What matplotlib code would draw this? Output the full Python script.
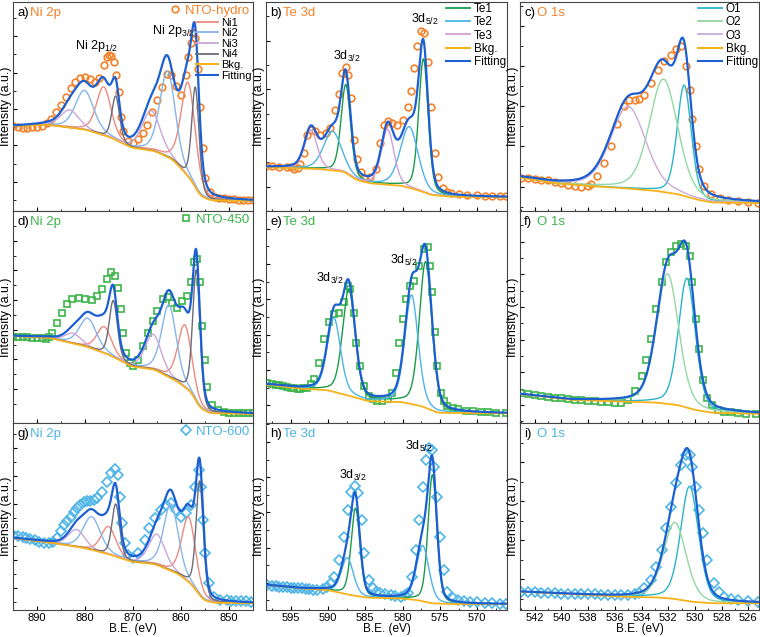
import numpy as np
import matplotlib.pyplot as plt
from matplotlib.lines import Line2D

plt.rcParams['font.family'] = ['Liberation Sans', 'DejaVu Sans']
plt.rcParams['mathtext.fontset'] = 'custom'
plt.rcParams['mathtext.rm'] = 'Liberation Sans'
plt.rcParams['mathtext.it'] = 'Liberation Sans'

# ---------------- data (B.E. in eV, intensity in a.u. 0-100) ----------------
samples = ['NTO-hydro', 'NTO-450', 'NTO-600']
sample_colors = ['#f5822a', '#3db54a', '#4fb4e8']
sample_markers = ['o', 's', 'D']

ni_hydro = [(895, 40.6), (894, 40.3), (893, 39.7), (892, 39.7), (891, 40.0), (890, 40.3), (889, 40.6),
            (888, 42), (887, 44), (886, 47.5), (885, 50.8), (884, 54.6), (883, 59), (882, 61.9),
            (881, 63.5), (880, 64.1), (879, 63), (878, 61.6), (877, 63.5), (876, 70), (875.5, 73.5),
            (875, 74.5), (874.5, 74), (874, 71.5), (873.5, 65), (873, 57), (872.5, 45), (872, 38.5),
            (871, 33.6), (870, 32.4), (869, 34.3), (868, 37.5), (867, 41.3), (866, 47.3), (865, 53),
            (864, 59.4), (863, 65.4), (862, 65), (861, 59.7), (860, 55.5), (859, 65), (858.5, 73.5),
            (858, 80.5), (857.5, 85), (857, 83), (856.5, 68), (856, 50), (855.5, 30), (855, 16),
            (854, 9), (853, 6.8), (852, 6.2), (851, 6), (850, 5.7), (849, 5.7), (848, 5.4),
            (847, 5.4), (846, 5.2), (845, 5.2)]
te_hydro = [(598.3, 19.7), (597.5, 19.7), (596.5, 19.5), (595.5, 19.3), (595, 19.2), (594.6, 18.4),
            (594, 19), (593.7, 20.8), (593.2, 26.3), (592.8, 35), (592.3, 37.5), (591.7, 36.7),
            (591, 35), (590.3, 35.9), (589.7, 38.3), (589, 47), (588.5, 55), (588.1, 65.2),
            (587.6, 68.4), (587.3, 64.4), (586.9, 53.3), (586.5, 32.7), (586.1, 23.2), (585.6, 16.8),
            (585, 14), (584.3, 14.4), (583.6, 18.4), (583, 31), (582.5, 39.8), (582, 41.9),
            (581.4, 41), (580.7, 39.8), (580, 42.2), (579.3, 48.6), (578.9, 56.5), (578.4, 67.6),
            (578, 78.7), (577.5, 85.9), (577.1, 85), (576.6, 70.8), (576.2, 48.6), (575.7, 26.3),
            (575.3, 14.4), (574.6, 8.9), (574, 7.3), (573.5, 6.5), (572.5, 6), (571.3, 5.7),
            (570, 5.4), (569, 5.2), (568, 5), (567, 4.9), (566.2, 4.9)]
o_hydro = [(543, 16), (542.5, 15.6), (542, 15.3), (541.5, 15), (541, 14.6), (540.5, 14), (540, 13.3),
           (539.5, 12.5), (539, 12), (538.5, 11.3), (538, 12), (537.8, 12.9), (537.3, 16.8),
           (536.8, 23.2), (536.3, 31.1), (535.8, 41.4), (535.3, 50.2), (534.9, 53.3), (534.5, 53.3),
           (534.2, 53.8), (533.8, 55.7), (533.3, 61.3), (532.8, 67.6), (532.3, 71.6), (531.8, 74.8),
           (531.4, 77.5), (531.05, 79), (530.7, 69.2), (530.4, 58.1), (530.2, 43.8), (529.9, 31.1),
           (529.7, 20), (529.3, 12), (528.8, 8.1), (528.1, 6.2), (527.5, 5.5), (526.8, 4.9),
           (526, 4.3), (525.3, 3.8)]

ni_450 = [(895, 40.7), (894, 40.7), (893, 40.5), (892, 40.5), (891, 40.3), (890, 40.2), (889, 40),
          (888.2, 39.7), (887.5, 40.5), (886.8, 42.6), (885.8, 47.3), (884.7, 52), (883.7, 56),
          (882.7, 58.4), (881.3, 58.9), (879.9, 58.4), (878.6, 57.9), (877.5, 59.7), (876.5, 63.1),
          (875.5, 67.9), (874.5, 71), (873.8, 69.5), (873.1, 63.9), (872.5, 53.6), (872.1, 42.6),
          (871.4, 33.1), (870.7, 28.3), (870, 26.7), (869, 29.9), (867.9, 36.2), (866.9, 42.6),
          (865.9, 48.1), (864.9, 52.8), (863.8, 58.4), (862.8, 59.2), (861.8, 56.8), (860.8, 54.4),
          (859.7, 57.6), (858.7, 60), (858, 66.3), (857.3, 75.8), (856.6, 77.4), (856.1, 66.3),
          (855.6, 45.7), (855.1, 29.9), (854.6, 17.2), (853.6, 8.5), (852.2, 6.2), (851, 5.2),
          (850, 4.9), (849, 4.9), (848, 4.9), (847, 4.9), (846, 4.9), (845, 4.9)]
te_450 = [(598.2, 18.8), (597.5, 18.3), (597, 17.9), (596.5, 17.5), (596, 17.2), (595.5, 16.8),
          (595, 16.5), (594.5, 16.2), (594, 16), (593.7, 16), (593.3, 16.2), (592.8, 16.5),
          (592.3, 18), (591.9, 20.4), (591.2, 28.3), (590.5, 39.4), (589.9, 47.3), (589.2, 51.3),
          (588.5, 52), (587.9, 56.8), (587.3, 64.4), (587, 63.1), (586.5, 52), (586.2, 37.8),
          (585.7, 26.7), (585.2, 17.2), (584.5, 12.5), (584, 11), (583.4, 10.1), (582.7, 10.3),
          (582, 10.9), (581.4, 14.1), (580.9, 23.6), (580.5, 37.8), (580, 48.9), (579.6, 58.4),
          (579, 64.4), (578.4, 67.1), (577.8, 74.2), (577.1, 82.1), (576.6, 82.9), (576.3, 74.2),
          (576, 61.6), (575.7, 42.6), (575.4, 26.7), (574.9, 14.1), (574.5, 10), (574, 7.8),
          (573.3, 6.8), (572.6, 6.2), (571.5, 5.6), (570.5, 5.2), (569.5, 5), (568.5, 4.8),
          (567.5, 4.7), (566.2, 4.6)]
o_450 = [(543, 14.1), (542.5, 13.5), (542, 13), (541.5, 12.6), (541, 12.3), (540.5, 12), (540, 11.7),
         (539.5, 11.3), (539, 11), (538.5, 10.8), (538, 10.6), (537.5, 10.3), (537, 10.1),
         (536.5, 9.7), (536, 9.2), (535.5, 9.2), (535, 10.9), (534.5, 14.9), (534, 22),
         (533.7, 29.9), (533.3, 39.4), (532.9, 53.6), (532.5, 66.3), (532.2, 75.8), (531.8, 80.5),
         (531.4, 83.7), (531.05, 84.5), (530.7, 83.7), (530.4, 79), (530.2, 66.3), (529.9, 48.9),
         (529.7, 34.7), (529.4, 20.4), (529.1, 11.7), (528.7, 8.5), (528.3, 6.2), (527.8, 5.4),
         (527.3, 5), (526.8, 4.6), (526.2, 4.4), (525.4, 4.3)]

ni_600 = [(895, 40.1), (894, 39.5), (893, 38.8), (892.3, 38.3), (891.5, 37.8), (890.5, 37.2),
          (889.5, 36.5), (888.5, 36), (887.5, 35.7), (886.6, 36.5), (885.8, 38.3), (885, 42),
          (884.4, 45.5), (883.7, 47.7), (883, 49.9), (882.3, 52.3), (881.6, 54.4), (881, 56),
          (880.3, 57.9), (879.6, 58.2), (878.9, 58.5), (878.2, 59), (877.5, 59.7), (876.5, 63.3),
          (875.5, 68.6), (874.5, 73.1), (873.8, 75.2), (873.2, 72.2), (872.7, 60.6), (872.3, 46.3),
          (871.7, 35.7), (871, 29.4), (870, 27.6), (869, 30.3), (867.6, 37.4), (866.6, 43.7),
          (865.5, 49), (864.2, 53.5), (863.2, 56.1), (862.1, 57), (861.1, 53.5), (860.1, 49.9),
          (859, 51.7), (858, 56.1), (857, 66), (856.3, 74.9), (855.8, 66), (855.4, 48.1),
          (854.9, 30.3), (854.2, 14.3), (853.2, 7.1), (851.8, 5.3), (850.5, 5.1), (849.5, 5),
          (848.5, 4.8), (847.5, 4.7), (846.5, 4.6), (845.5, 4.5)]
te_600 = [(598.2, 13.4), (597.5, 13.1), (597, 12.8), (596.5, 12.5), (596, 12.3), (595.5, 12.1),
          (595, 12), (594.5, 11.8), (594, 11.7), (593.5, 11.5), (593, 11.3), (592.5, 11),
          (592, 10.9), (591.4, 10.7), (590.7, 11.2), (590.1, 12.5), (589.6, 14.5), (589.2, 17.8),
          (588.5, 26.7), (587.9, 39.2), (587.3, 53.5), (586.9, 63.3), (586.4, 66.3), (586, 62.4),
          (585.5, 48.1), (585.1, 30.3), (584.5, 16), (584, 11.5), (583.6, 9.8), (583, 9),
          (582.3, 8.5), (581.6, 8), (581, 7.6), (580.2, 7.1), (579.7, 7.8), (579.3, 9.3),
          (578.7, 17.8), (578.2, 32.1), (577.8, 48.1), (577.3, 66), (576.9, 80.2), (576.4, 86.5),
          (576.1, 85.6), (575.8, 76.6), (575.4, 60.6), (575, 39.2), (574.5, 21.4), (574, 9.8),
          (573.3, 6.5), (572.6, 5.3), (571.8, 4.8), (571, 4.4), (570, 4.1), (569, 3.9), (568, 3.6),
          (567, 3.4), (566.2, 3.2)]
o_600 = [(543, 9.8), (542.5, 9.6), (542, 9.5), (541.5, 9.3), (541, 9.1), (540.5, 8.9), (540, 8.8),
         (539.5, 8.7), (539, 8.6), (538.5, 8.5), (538, 8.4), (537.5, 8.3), (537, 8.2), (536.5, 8),
         (536, 7.9), (535.5, 7.8), (535, 8), (534.5, 8.4), (534.2, 9.2), (533.8, 11.6), (533.3, 16),
         (532.9, 23.2), (532.5, 32.1), (532.2, 43.7), (531.8, 55.3), (531.4, 67.7), (531.05, 77.5),
         (530.7, 82.9), (530.4, 82.9), (530.2, 76.6), (529.9, 66), (529.7, 53.5), (529.4, 41),
         (529.1, 26.7), (528.6, 14.3), (528.2, 9.5), (527.8, 7.1), (527.3, 6), (526.8, 5.3),
         (526, 4.9), (525.3, 4.5)]

# background anchor points
bkg_ni_hydro = [(895, 40.6), (888, 41.3), (880, 39), (875, 35.5), (870.3, 30.3), (865.5, 28.7), (862, 25),
                (860.8, 22.4), (858, 15.2), (856, 7.3), (854, 5.2), (845, 4.8)]
bkg_te_hydro = [(598.3, 19.2), (591.4, 18.4), (587.9, 17.1), (586.1, 12.9), (584.3, 11.3), (580.2, 10.2),
                (578, 8.1), (576.2, 5.7), (573.5, 4.8), (566, 4.6)]
bkg_o_hydro = [(543, 16), (540.5, 13.3), (538, 12), (535.5, 11), (533, 9.7), (531.3, 8.1), (530, 5.7),
               (528.8, 4.1), (525.2, 3.8)]
bkg_ni_450 = [(895, 41), (887.5, 40.2), (879.9, 36.2), (875.1, 32.3), (870.3, 26.7), (865.5, 25.2),
              (860.8, 19.6), (858, 14.9), (856, 7), (853.9, 4.6), (845, 4.3)]
bkg_te_450 = [(598.2, 18), (593.7, 16), (590.1, 15.3), (587, 12.5), (584.7, 10.1), (580.2, 9.7),
              (577.5, 7.8), (575.3, 4.6), (566, 4.3)]
bkg_o_450 = [(543, 13.6), (539.3, 10.9), (535.5, 10.1), (533, 9.7), (531.3, 8.5), (530, 6.2),
             (528.8, 4.9), (525.2, 4.3)]
bkg_ni_600 = [(895, 38.5), (886.8, 35.9), (879.9, 33), (875.1, 29.9), (870.3, 25.8), (865.5, 24.6),
              (860.8, 19.6), (858, 14.3), (855.3, 5.3), (853.2, 3.9), (845, 3.6)]
bkg_te_600 = [(598.2, 13.4), (593.7, 11.6), (590.1, 10.7), (587, 8), (584.7, 6.6), (580.2, 6.2),
              (578, 5.3), (576.2, 3.6), (573.5, 3.2), (566, 3.2)]
bkg_o_600 = [(543, 9.8), (535.5, 7.1), (533, 6.8), (531.8, 6.2), (530.3, 4.5), (528.8, 3.6), (525.2, 3.6)]

# fitted components: one list per component, [(center, height above bkg, fwhm), ...]
ni_names = ['Ni1', 'Ni2', 'Ni3', 'Ni4']
ni_colors = ['#ec8a80', '#86b5ea', '#caa6da', '#6c6c7a']
te_names = ['Te1', 'Te2', 'Te3']
te_colors = ['#1b9a4b', '#4cb4e6', '#d29fd8']
o_names = ['O1', 'O2', 'O3']
o_colors = ['#2ab4c8', '#93d7a3', '#c8abd9']

peaks_ni_hydro = [[(876.1, 23, 3.6), (858.5, 45, 3.5)], [(880.1, 18.6, 4.5), (862.8, 41, 3.8)],
                  [(883.2, 8.3, 4.5), (866.2, 19, 4.5)], [(873.6, 21, 1.9), (857.0, 48, 1.8)]]
peaks_te_hydro = [[(587.6, 43.2, 1.5), (577.2, 65.1, 1.5)], [(589.4, 19, 2.8), (579.1, 29.8, 2.8)],
                  [(592.3, 18.8, 2.0), (582.0, 27, 2.0)]]
peaks_o_hydro = [[(530.8, 53, 1.25)], [(532.35, 54, 2.5)], [(535.0, 39.3, 3.1)]]
peaks_ni_450 = [[(876.0, 12.3, 3.6), (859.2, 29.3, 3.4)], [(879.4, 13.5, 4.2), (862.5, 34, 3.6)],
                [(882.5, 4.7, 4.0), (865.8, 16.6, 4.0)], [(874.1, 26.6, 2.0), (856.8, 62, 1.8)]]
peaks_te_450 = [[(587.2, 50, 2.0), (576.9, 69, 2.0)], [(589.2, 34.8, 2.1), (578.8, 51.5, 2.1)]]
peaks_o_450 = [[(530.6, 61, 1.5)], [(532.05, 61.4, 1.95)]]
peaks_ni_600 = [[(875.1, 14.7, 3.6), (858.4, 34.7, 3.4)], [(878.6, 17.6, 4.2), (862.1, 35.6, 3.6)],
                [(881.8, 9.2, 4.0), (865.0, 16.4, 4.0)], [(873.6, 28, 1.9), (856.1, 61, 1.8)]]
peaks_te_600 = [[(586.3, 46.8, 1.4), (576.0, 68.7, 1.4)], [(587.4, 19.6, 1.9), (577.3, 29.8, 2.0)]]
peaks_o_600 = [[(530.4, 61.5, 1.6)], [(531.5, 41, 2.0)]]

BKG_COLOR = '#f6b21b'
FIT_COLOR = '#1c5fd2'


def pv(x, c, h, w, eta=0.3):
    g = np.exp(-4 * np.log(2) * (x - c) ** 2 / w ** 2)
    l = 1 / (1 + 4 * (x - c) ** 2 / w ** 2)
    return h * ((1 - eta) * g + eta * l)


def draw(ax, data, bkg, peaks, colors, xlim, sample_i):
    grid = np.linspace(xlim[0], xlim[1], 800)
    bx, by = zip(*bkg)
    base = np.interp(grid, bx[::-1], by[::-1])
    k = np.ones(25) / 25
    base = np.convolve(np.pad(base, 12, mode='edge'), k, mode='valid')
    dx, dy = zip(*data)
    ax.plot(dx, dy, ls='none', marker=sample_markers[sample_i], ms=4.8, mew=1.2,
            mfc='none', mec=sample_colors[sample_i], zorder=2)
    total = base.copy()
    for pk, col in zip(peaks, colors):
        comp = sum(pv(grid, *p) for p in pk)
        total += comp
        ax.plot(grid, base + comp, color=col, lw=1.0, zorder=3)
    ax.plot(grid, base, color=BKG_COLOR, lw=1.3, zorder=3)
    ax.plot(grid, total, color=FIT_COLOR, lw=1.6, zorder=4)
    ax.set_xlim(*xlim)
    ax.set_ylim(0, 100)


fig = plt.figure(figsize=(7.6, 6.37), dpi=100)
col_left = [13 / 760, 266 / 760, 520 / 760]
col_w = [240 / 760, 241 / 760, 239 / 760]
row_bot = [1 - 211 / 637, 1 - 423 / 637, 1 - 610 / 637]
row_h = [209 / 637, 212 / 637, 187 / 637]

xlims = [(895, 845), (598.3, 566.0), (543.1, 525.2)]
xmajor = [10, 5, 2]
all_data = [[ni_hydro, te_hydro, o_hydro], [ni_450, te_450, o_450], [ni_600, te_600, o_600]]
all_bkg = [[bkg_ni_hydro, bkg_te_hydro, bkg_o_hydro], [bkg_ni_450, bkg_te_450, bkg_o_450],
           [bkg_ni_600, bkg_te_600, bkg_o_600]]
all_peaks = [[peaks_ni_hydro, peaks_te_hydro, peaks_o_hydro], [peaks_ni_450, peaks_te_450, peaks_o_450],
             [peaks_ni_600, peaks_te_600, peaks_o_600]]
comp_names = [ni_names, te_names, o_names]
comp_colors = [ni_colors, te_colors, o_colors]
core_levels = ['Ni 2p', 'Te 3d', 'O 1s']
letters = 'abcdefghi'
ytick_start = [[14, 9.7, 11.7], [16, 8.1, 8.5], [11.6, 14.6, 16.4]]
ytick_step = [[17.4, 23.8, 19.2], [14, 16.7, 15.4], [15, 18.8, 20.9]]

for r in range(3):
    for c in range(3):
        ax = fig.add_axes([col_left[c], row_bot[r], col_w[c], row_h[r]])
        draw(ax, all_data[r][c], all_bkg[r][c], all_peaks[r][c], comp_colors[c], xlims[c], r)
        lo, hi = min(xlims[c]), max(xlims[c])
        ax.set_xticks(np.arange(np.ceil(lo / xmajor[c]) * xmajor[c], hi, xmajor[c]))
        ax.set_xticks(np.arange(np.ceil(lo / (xmajor[c] / 2)) * xmajor[c] / 2, hi, xmajor[c] / 2), minor=True)
        yt = np.arange(ytick_start[r][c], 100, ytick_step[r][c])
        ax.set_yticks(yt)
        ax.set_yticks(np.arange(ytick_start[r][c] - ytick_step[r][c] / 2, 100, ytick_step[r][c]), minor=True)
        ax.tick_params(which='both', direction='in', top=False, right=False, labelleft=False, labelsize=8)
        ax.tick_params(which='major', length=3, width=0.8)
        ax.tick_params(which='minor', length=1.8, width=0.6)
        for s in ax.spines.values():
            s.set_linewidth(0.8)
            s.set_color('#444444')
        ax.set_ylabel('Intensity (a.u.)', fontsize=9, labelpad=1)
        if r == 2:
            ax.set_xlabel('B.E. (eV)', fontsize=8.5, labelpad=0)
            ax.tick_params(axis='x', pad=2)
        else:
            ax.tick_params(labelbottom=False)
        ax.text(0.017, 0.975, letters[3 * r + c] + ')', transform=ax.transAxes, fontsize=9.5,
                va='top', ha='left')
        ax.text(0.072, 0.975, core_levels[c], transform=ax.transAxes, fontsize=9.5,
                va='top', ha='left', color=sample_colors[r])

        if c == 0:
            h = [Line2D([], [], ls='none', marker=sample_markers[r], mfc='none',
                        mec=sample_colors[r], ms=4.8, mew=1.2)]
            leg = ax.legend(h, [samples[r]], loc='upper right', bbox_to_anchor=(1.0, 1.0),
                            frameon=False, fontsize=9.5, handlelength=1.0, handletextpad=0.3,
                            borderaxespad=0.0, borderpad=0.2, labelcolor=sample_colors[r])
            if r == 0:
                ax.add_artist(leg)
        if r == 0:
            hs = [Line2D([], [], color=col, lw=1.3) for col in comp_colors[c]]
            hs += [Line2D([], [], color=BKG_COLOR, lw=1.5), Line2D([], [], color=FIT_COLOR, lw=1.5)]
            labs = comp_names[c] + ['Bkg.', 'Fitting']
            if c == 0:
                ax.legend(hs, labs, loc='upper right', bbox_to_anchor=(1.0, 0.93), frameon=False,
                          fontsize=8, handlelength=2.0, handletextpad=0.3, labelspacing=0.05,
                          borderaxespad=0.0, borderpad=0.1)
            else:
                ax.legend(hs, labs, loc='upper right', bbox_to_anchor=(1.0, 1.0), frameon=False,
                          fontsize=8.5, handlelength=2.0, handletextpad=0.35, labelspacing=0.1,
                          borderaxespad=0.0, borderpad=0.1)

        if c == 0 and r == 0:
            ax.text(877.5, 79, r'Ni 2p$_{1/2}$', fontsize=9, ha='center', va='center')
            ax.text(861.5, 86, r'Ni 2p$_{3/2}$', fontsize=9, ha='center', va='center')
        if c == 1:
            pos = [[(587.4, 73.2), (577.0, 91.4)], [(589.7, 67.9), (579.8, 76.6)],
                   [(586.7, 72.2), (577.8, 87.3)]][r]
            ax.text(pos[0][0], pos[0][1], r'3d$_{3/2}$', fontsize=9, ha='center', va='center')
            ax.text(pos[1][0], pos[1][1], r'3d$_{5/2}$', fontsize=9, ha='center', va='center')

fig.savefig('out.png', dpi=100)
